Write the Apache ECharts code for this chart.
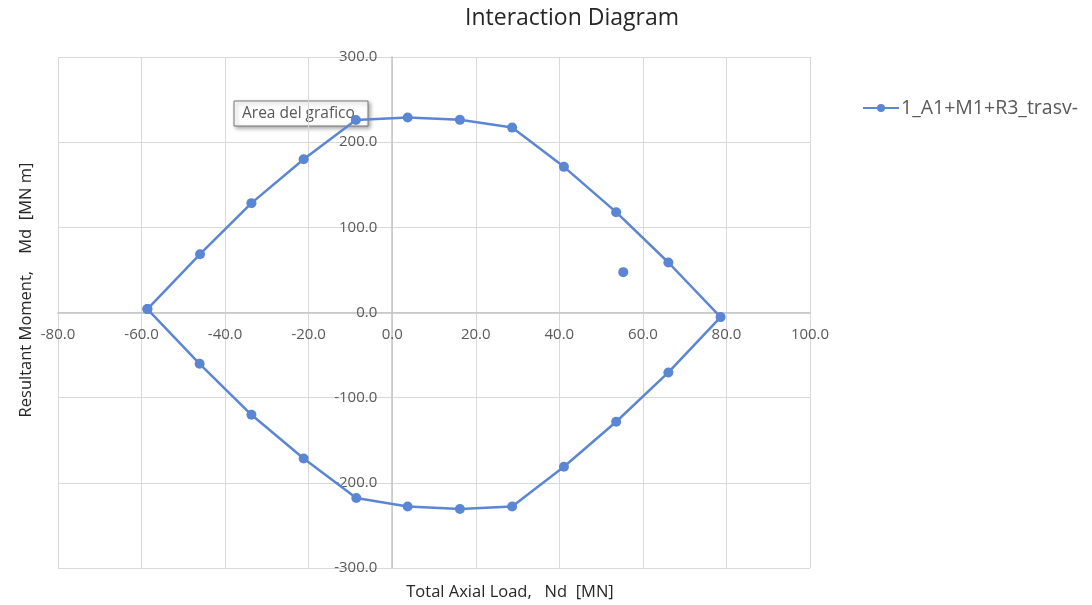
<!DOCTYPE html>
<html>
<head>
<meta charset="utf-8">
<script src="https://cdn.jsdelivr.net/npm/echarts@6/dist/echarts.min.js"></script>
<style>
html,body{margin:0;padding:0;background:#fff;}
#chart{width:1092px;height:605px;}
</style>
</head>
<body>
<div id="chart"></div>
<script>
const chartTitle = 'Interaction Diagram';
const seriesName = '1_A1+M1+R3_trasv-';
const xAxisName = 'Total Axial Load,   Nd  [MN]';
const yAxisName = 'Resultant Moment,    Md  [MN m]';
const hoverLabel = 'Area del grafico';

// Interaction domain (closed loop): axial load Nd [MN], moment Md [MN m]
const axialLoad = [-58.6, -46.0, -33.7, -21.2, -8.7, 3.7, 16.2, 28.7, 41.1, 53.6, 66.1, 78.6,
                   66.1, 53.6, 41.1, 28.7, 16.2, 3.7, -8.6, -21.2, -33.7, -46.1, -58.6];
const moment    = [4.0, 68.5, 128.4, 180.0, 226.0, 228.9, 226.2, 217.1, 171.0, 117.8, 58.7, -5.4,
                   -70.4, -128.3, -181.1, -227.7, -230.8, -227.7, -217.8, -171.4, -120.1, -60.2, 4.0];
// Design action point
const actionLoad = [55.3];
const actionMoment = [47.4];

const xMin = -80, xMax = 100, xStep = 20;
const yMin = -300, yMax = 300, yStep = 100;

const color = '#5b86d3';
const font = 'Open Sans';
const labelColor = '#595959';

const gridLeft = 58, gridRight = 282, gridTop = 57, gridBottom = 37;
const W = 1092, H = 605;
const plotW = W - gridLeft - gridRight, plotH = H - gridTop - gridBottom;
// shift axes so they sit on the zero lines (labels included)
const yAxisShift = plotW * (0 - xMin) / (xMax - xMin);
const xAxisShift = plotH * (0 - yMin) / (yMax - yMin);

const chart = echarts.init(document.getElementById('chart'));
chart.setOption({
  animation: false,
  textStyle: {fontFamily: font},
  title: {
    text: chartTitle, left: 572, top: 7, padding: 0, textAlign: 'center',
    textStyle: {fontFamily: font, fontSize: 23, fontWeight: 'normal', color: '#262626'}
  },
  legend: {
    data: [seriesName], left: 862, top: 98, itemWidth: 36, itemHeight: 10, padding: 0,
    textStyle: {fontFamily: font, fontSize: 19.5, color: labelColor, padding: [0, 0, 0, -3]}
  },
  grid: {left: gridLeft, right: gridRight, top: gridTop, bottom: gridBottom, outerBoundsMode: 'none', containLabel: false},
  xAxis: {
    type: 'value', min: xMin, max: xMax, interval: xStep,
    position: 'bottom', offset: -xAxisShift,
    axisLine: {onZero: false, lineStyle: {color: '#c4c4c4', width: 1.5}},
    axisTick: {show: false},
    axisLabel: {formatter: v => v.toFixed(1), fontSize: 15, color: labelColor, margin: 15, fontFamily: font},
    splitLine: {lineStyle: {color: '#d9d9d9', width: 1}}
  },
  yAxis: {
    type: 'value', min: yMin, max: yMax, interval: yStep,
    position: 'left', offset: -yAxisShift,
    axisLine: {show: true, onZero: false, lineStyle: {color: '#c4c4c4', width: 1.5}},
    axisTick: {show: false},
    axisLabel: {formatter: v => v.toFixed(1), fontSize: 15, color: labelColor, margin: 15, fontFamily: font},
    splitLine: {lineStyle: {color: '#d9d9d9', width: 1}}
  },
  series: [
    {
      name: seriesName, type: 'line',
      data: axialLoad.map((x, i) => [x, moment[i]]),
      symbol: 'circle', symbolSize: 10,
      itemStyle: {color: color},
      lineStyle: {color: color, width: 2.5},
      z: 3
    },
    {
      name: 'action', type: 'scatter',
      data: actionLoad.map((x, i) => [x, actionMoment[i]]),
      symbol: 'circle', symbolSize: 10,
      itemStyle: {color: color, opacity: 1}
    }
  ],
  graphic: [
    {
      type: 'text', x: 510, y: 592,
      style: {text: xAxisName, fontFamily: font, fontSize: 16.5, fill: '#262626', textAlign: 'center', textVerticalAlign: 'middle'}
    },
    {
      type: 'text', x: 18, y: 290, rotation: Math.PI / 2,
      style: {text: yAxisName, fontFamily: font, fontSize: 16.5, fill: '#262626', textAlign: 'center', textVerticalAlign: 'top'}
    },
    {
      type: 'group', x: 234, y: 101, z: 100,
      children: [
        {type: 'rect', shape: {x: 0, y: 0, width: 134, height: 25},
         style: {fill: '#ffffff', stroke: '#767676', lineWidth: 1,
                 shadowBlur: 4, shadowOffsetX: 2, shadowOffsetY: 2, shadowColor: 'rgba(0,0,0,0.35)'}},
        {type: 'text', x: 8, y: 13,
         style: {text: hoverLabel, fontFamily: font, fontSize: 15.5, fill: '#575757', textVerticalAlign: 'middle'}}
      ]
    }
  ]
});
</script>
</body>
</html>
